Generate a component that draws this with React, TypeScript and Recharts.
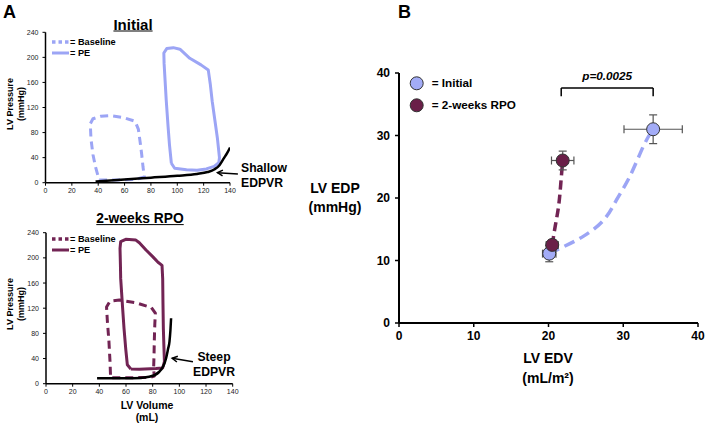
import React from "react";
import {
  LineChart,
  ComposedChart,
  Line,
  Scatter,
  ErrorBar,
  XAxis,
  YAxis,
  ReferenceLine,
  ReferenceDot,
} from "recharts";

const FONT = "'Liberation Sans', Arial, Helvetica, sans-serif";
const BLUE = "#9ca5f5";
const MAROON = "#722454";

// ---- panel A: pressure-volume loops (volume mL, pressure mmHg)
const volumeTicks = [0, 20, 40, 60, 80, 100, 120, 140];
const pressureTicks = [0, 40, 80, 120, 160, 200, 240];

const initialBaseline = [
  [40.7, 4.5], [55, 4.5], [68, 5], [75, 9], [74, 25], [73, 45], [72, 62], [70.5, 85],
  [68, 98], [59, 104], [50, 107], [42, 106], [36, 102], [34, 94], [34.5, 70],
  [36, 45], [38, 25], [40.7, 4.5],
];
const initialPE = [
  [95.5, 31], [98, 23], [107, 20.5], [115, 20], [122, 22], [128, 26], [131.5, 32],
  [132, 40], [130.5, 70], [128.5, 100], [126.5, 130], [125, 158], [123.5, 180],
  [118, 188], [109.5, 198.5], [102, 213], [97, 215.5], [92, 214], [89.8, 207],
  [90, 190], [91.6, 132], [93, 90], [94.1, 60], [95.5, 31],
];
const initialEDPVR = [
  [38, 2], [60, 5], [80, 8], [100, 11], [115, 14], [123, 17], [128, 21], [132, 28],
  [135, 38], [138, 48], [140, 56],
];

const rpoBaseline = [
  [49.7, 9.5], [65, 9.5], [78, 10], [81.2, 12], [80.7, 24], [81, 45], [81.2, 67],
  [81.6, 95], [82, 112], [79, 121], [67.4, 128.7], [55, 133], [48, 131], [45.4, 122],
  [46, 100], [47.2, 67], [48, 35], [48.4, 12], [49.7, 9.5],
];
const rpoPE = [
  [63.6, 23.3], [70, 22.8], [82.5, 24], [87.5, 25], [88.8, 35], [88.4, 60], [88, 88],
  [87.7, 130], [87.5, 167], [87, 188], [84, 193], [80, 202], [75, 212.5], [70, 224],
  [67.4, 228.3], [59.8, 229.4], [56, 225.7], [55.5, 215], [55.8, 190], [56, 167.4],
  [57.3, 125], [58.5, 88], [59.8, 55], [61, 30], [63.6, 23.3],
];
const rpoEDPVR = [
  [38.3, 8.5], [64.8, 8.5], [77.4, 11], [85, 19], [88, 28], [90, 40], [91.5, 55],
  [92.6, 67], [93.3, 85], [93.8, 104],
];

// arrows: [tail, tip]
const shallowArrow = [[146, 13.9], [130.5, 16]];
const steepArrow = [[110.2, 35], [94.6, 40.4]];

// ---- panel B: LV EDP vs LV EDV
const edvTicks = [0, 10, 20, 30, 40];
const edpTicks = [0, 10, 20, 30, 40];
const initialEDV = [20.1, 34.0];
const initialEDP = [11.1, 31.0];
const initialEDVErr = [0.9, 3.9];
const initialEDPErr = [1.3, 2.3];
const rpoEDV = [20.5, 21.9];
const rpoEDP = [12.5, 26.0];
const rpoEDVErr = [0.8, 1.5];
const rpoEDPErr = [0.8, 1.5];

const initialCurve = [
  [20.1, 11.1], [22, 12.2], [24.7, 13.9], [27.4, 16.5], [29.1, 19.7], [30.9, 23.5],
  [32.7, 28.3], [34, 31],
];
const rpoCurve = [[20.5, 12.5], [20.9, 15.5], [21.35, 18.7], [21.65, 22.4], [21.9, 26]];

const bracketX = [21.7, 34.0];
const bracketY = [36.3, 37.6];
const pLabel = "p=0.0025";

const pts = (a: number[][]) => a.map(([x, y]) => ({ x, y }));
const scatterPts = (xs: number[], ys: number[], ex: number[], ey: number[]) =>
  xs.map((x, i) => ({ x, y: ys[i], ex: ex[i], ey: ey[i] }));

function Arrow(props: any) {
  const { x1, y1, x2, y2 } = props;
  const ang = Math.atan2(y2 - y1, x2 - x1);
  const L = 6;
  const a1 = ang + Math.PI - 0.5;
  const a2 = ang + Math.PI + 0.5;
  return (
    <g>
      <line x1={x1} y1={y1} x2={x2} y2={y2} stroke="#000" strokeWidth={1.5} />
      <polyline
        points={`${x2 + L * Math.cos(a1)},${y2 + L * Math.sin(a1)} ${x2},${y2} ${x2 + L * Math.cos(a2)},${y2 + L * Math.sin(a2)}`}
        fill="none"
        stroke="#000"
        strokeWidth={1.5}
      />
    </g>
  );
}

function Txt({ x, y, size, children, align = "center", style = {} }: any) {
  const tx = align === "center" ? "-50%" : "0";
  return (
    <div
      style={{
        position: "absolute",
        left: x,
        top: y,
        transform: `translate(${tx}, -50%)`,
        fontFamily: FONT,
        fontWeight: "bold",
        fontSize: size,
        whiteSpace: "nowrap",
        lineHeight: 1,
        ...style,
      }}
    >
      {children}
    </div>
  );
}

function RotLabel({ x, y }: { x: number; y: number }) {
  return (
    <div
      style={{
        position: "absolute",
        left: x,
        top: y,
        transform: "translate(-50%, -50%) rotate(-90deg)",
        fontFamily: FONT,
        fontWeight: "bold",
        fontSize: 9,
        lineHeight: "10.5px",
        textAlign: "center",
        whiteSpace: "nowrap",
      }}
    >
      LV Pressure
      <br />
      (mmHg)
    </div>
  );
}

function LegendA({ x, y, color }: { x: number; y: number; color: string }) {
  return (
    <svg
      style={{ position: "absolute", left: x, top: y, overflow: "visible" }}
      width={80}
      height={22}
    >
      <line x1={0} y1={0} x2={17} y2={0} stroke={color} strokeWidth={3.5} strokeDasharray="3.5 3" />
      <line x1={0} y1={11} x2={17} y2={11} stroke={color} strokeWidth={3} />
      <text x={18} y={3.3} fontFamily={FONT} fontWeight="bold" fontSize={9.2}>= Baseline</text>
      <text x={18} y={14.3} fontFamily={FONT} fontWeight="bold" fontSize={9.2}>= PE</text>
    </svg>
  );
}

const axisA = {
  tick: { fontSize: 7, fill: "#222", stroke: "none", fontFamily: FONT },
  tickSize: 3,
  axisLine: { stroke: "#000", strokeWidth: 1.5 },
  tickLine: { stroke: "#000" },
};

function PVChart({
  baseline,
  pe,
  edpvr,
  arrow,
  color,
  margin,
}: {
  baseline: number[][];
  pe: number[][];
  edpvr: number[][];
  arrow: number[][];
  color: string;
  margin: any;
}) {
  return (
    <LineChart width={250} height={190} margin={margin}>
      <XAxis
        type="number"
        dataKey="x"
        domain={[0, 140]}
        ticks={volumeTicks}
        interval={0}
        allowDataOverflow
        height={15}
        tickMargin={2}
        {...axisA}
      />
      <YAxis
        type="number"
        dataKey="y"
        domain={[0, 240]}
        ticks={pressureTicks}
        interval={0}
        allowDataOverflow
        width={20}
        tickMargin={4}
        {...axisA}
      />
      <Line
        data={pts(baseline)}
        dataKey="y"
        type="linear"
        stroke={color}
        strokeWidth={3}
        strokeDasharray="8 5"
        strokeLinejoin="round"
        dot={false}
        isAnimationActive={false}
      />
      <Line
        data={pts(pe)}
        dataKey="y"
        type="linear"
        stroke={color}
        strokeWidth={3}
        strokeLinejoin="round"
        dot={false}
        isAnimationActive={false}
      />
      <Line
        data={pts(edpvr)}
        dataKey="y"
        type="monotone"
        stroke="#000"
        strokeWidth={2.5}
        dot={false}
        isAnimationActive={false}
      />
      <ReferenceLine
        segment={[
          { x: arrow[0][0], y: arrow[0][1] },
          { x: arrow[1][0], y: arrow[1][1] },
        ]}
        ifOverflow="visible"
        shape={(p: any) => <Arrow {...p} />}
      />
    </LineChart>
  );
}

const circle = (fill: string) => (p: any) =>
  <circle cx={p.cx} cy={p.cy} r={6.5} fill={fill} stroke="#333" strokeWidth={1} />;

function EDPChart() {
  const axisB = {
    tick: { fontSize: 12, fill: "#000", stroke: "none", fontWeight: "bold", fontFamily: FONT },
    tickSize: 4,
    axisLine: { stroke: "#000", strokeWidth: 2 },
    tickLine: { stroke: "#000", strokeWidth: 1.5 },
  };
  return (
    <ComposedChart width={365} height={310} margin={{ top: 23, right: 7, bottom: 7, left: 19 }}>
      <XAxis
        type="number"
        dataKey="x"
        domain={[0, 40]}
        ticks={edvTicks}
        interval={0}
        height={30}
        tickMargin={4}
        {...axisB}
      />
      <YAxis
        type="number"
        dataKey="y"
        domain={[0, 40]}
        ticks={edpTicks}
        interval={0}
        width={40}
        tickMargin={5}
        {...axisB}
      />
      <ReferenceLine
        segment={[
          { x: bracketX[0], y: bracketY[0] },
          { x: bracketX[0], y: bracketY[1] },
        ]}
        stroke="#000"
        strokeWidth={1.5}
      />
      <ReferenceLine
        segment={[
          { x: bracketX[0], y: bracketY[1] },
          { x: bracketX[1], y: bracketY[1] },
        ]}
        stroke="#000"
        strokeWidth={1.5}
      />
      <ReferenceLine
        segment={[
          { x: bracketX[1], y: bracketY[1] },
          { x: bracketX[1], y: bracketY[0] },
        ]}
        stroke="#000"
        strokeWidth={1.5}
      />
      <ReferenceDot
        x={(bracketX[0] + bracketX[1]) / 2}
        y={39.6}
        r={0}
        fill="none"
        stroke="none"
        label={{
          value: pLabel,
          position: "center",
          fontSize: 11.7,
          fontWeight: "bold",
          fontStyle: "italic",
          fill: "#000",
          fontFamily: FONT,
        }}
      />
      <Line
        data={pts(initialCurve)}
        dataKey="y"
        type="natural"
        stroke={BLUE}
        strokeWidth={3.5}
        strokeDasharray="11 6"
        dot={false}
        isAnimationActive={false}
      />
      <Line
        data={pts(rpoCurve)}
        dataKey="y"
        type="natural"
        stroke={MAROON}
        strokeWidth={3.5}
        strokeDasharray="9 5"
        dot={false}
        isAnimationActive={false}
      />
      <Scatter
        data={scatterPts(initialEDV, initialEDP, initialEDVErr, initialEDPErr)}
        dataKey="y"
        shape={circle("#a3acf7")}
        isAnimationActive={false}
      >
        <ErrorBar dataKey="ex" direction="x" width={4} stroke="#555" strokeWidth={1.2} isAnimationActive={false} />
        <ErrorBar dataKey="ey" direction="y" width={4} stroke="#555" strokeWidth={1.2} isAnimationActive={false} />
      </Scatter>
      <Scatter
        data={scatterPts(rpoEDV, rpoEDP, rpoEDVErr, rpoEDPErr)}
        dataKey="y"
        shape={circle("#6a1f48")}
        isAnimationActive={false}
      >
        <ErrorBar dataKey="ex" direction="x" width={4} stroke="#555" strokeWidth={1.2} isAnimationActive={false} />
        <ErrorBar dataKey="ey" direction="y" width={4} stroke="#555" strokeWidth={1.2} isAnimationActive={false} />
      </Scatter>
    </ComposedChart>
  );
}

export default function App() {
  return (
    <div
      style={{
        position: "absolute",
        left: 0,
        top: 0,
        width: 705,
        height: 424,
        background: "#fff",
        overflow: "hidden",
        fontFamily: FONT,
      }}
    >
      <Txt x={3} y={12} size={18} align="left">A</Txt>
      <Txt x={398} y={12} size={18} align="left">B</Txt>

      {/* Initial */}
      <Txt x={133} y={24} size={15} style={{ textDecoration: "underline" }}>Initial</Txt>
      <div style={{ position: "absolute", left: 0, top: 20 }}>
        <PVChart
          baseline={initialBaseline}
          pe={initialPE}
          edpvr={initialEDPVR}
          arrow={shallowArrow}
          color={BLUE}
          margin={{ top: 12.3, right: 20, bottom: 12.3, left: 25.5 }}
        />
      </div>
      <RotLabel x={15} y={104} />
      <LegendA x={52} y={42} color={BLUE} />
      <Txt x={241} y={168} size={12.2} align="left">Shallow</Txt>
      <Txt x={241} y={183} size={12.2} align="left">EDPVR</Txt>

      {/* 2-weeks RPO */}
      <Txt x={140} y={219} size={13.8} style={{ textDecoration: "underline" }}>2-weeks RPO</Txt>
      <div style={{ position: "absolute", left: 0, top: 215 }}>
        <PVChart
          baseline={rpoBaseline}
          pe={rpoPE}
          edpvr={rpoEDPVR}
          arrow={steepArrow}
          color={MAROON}
          margin={{ top: 17.7, right: 17.3, bottom: 6.3, left: 26 }}
        />
      </div>
      <RotLabel x={15} y={304} />
      <LegendA x={52} y={239} color={MAROON} />
      <Txt x={214} y={357} size={12.2}>Steep</Txt>
      <Txt x={214} y={372} size={12.2}>EDPVR</Txt>
      <Txt x={147} y={405} size={10.5}>LV Volume</Txt>
      <Txt x={147} y={417} size={10.5}>(mL)</Txt>

      {/* panel B */}
      <div style={{ position: "absolute", left: 340, top: 50 }}>
        <EDPChart />
      </div>
      <svg style={{ position: "absolute", left: 405, top: 72 }} width={20} height={45}>
        <circle cx={11.7} cy={11.3} r={6.5} fill="#a3acf7" stroke="#333" strokeWidth={1} />
        <circle cx={11.7} cy={33.3} r={6.5} fill="#6a1f48" stroke="#333" strokeWidth={1} />
      </svg>
      <Txt x={431.7} y={83.3} size={11.7} align="left">= Initial</Txt>
      <Txt x={431.7} y={105.3} size={11.7} align="left">= 2-weeks RPO</Txt>
      <Txt x={335} y={188} size={14}>LV EDP</Txt>
      <Txt x={335} y={207} size={14}>(mmHg)</Txt>
      <Txt x={548} y={358} size={14}>LV EDV</Txt>
      <Txt x={548} y={378} size={14}>(mL/m²)</Txt>
    </div>
  );
}
